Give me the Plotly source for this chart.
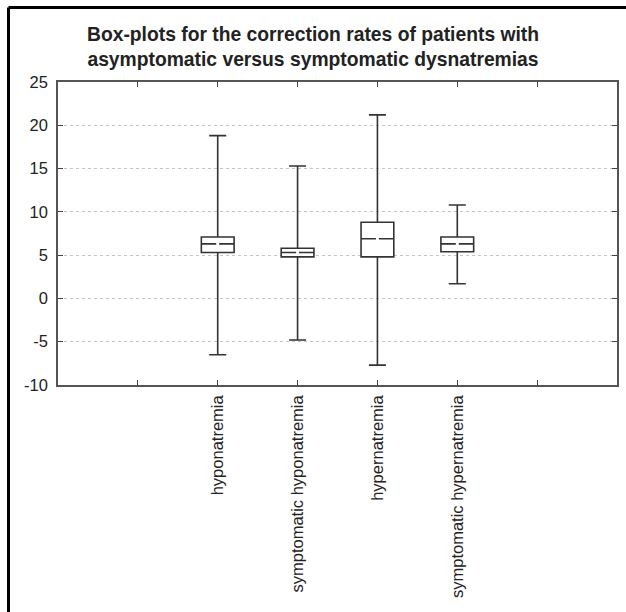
import plotly.graph_objects as go

categories = ["hyponatremia", "symptomatic hyponatremia", "hypernatremia", "symptomatic hypernatremia"]
positions = [1, 2, 3, 4]
upper_fence = [18.8, 15.3, 21.2, 10.8]
q3_values = [7.1, 5.8, 8.8, 7.1]
medians = [6.3, 5.3, 6.9, 6.3]
q1_values = [5.3, 4.8, 4.8, 5.4]
lower_fence = [-6.5, -4.8, -7.7, 1.7]

y_ticks = [-10, -5, 0, 5, 10, 15, 20, 25]
y_ticktext = ["-10", "-5", "0", "5", "10", "15", "20", "25"]
x_tickvals = [0, 1, 2, 3, 4, 5]
x_ticktext = [""] + categories + [""]

title_text = "Box-plots for the correction rates of patients with<br>asymptomatic versus symptomatic dysnatremias"

FONT = "Liberation Sans, Arial, sans-serif"
TXT = "#222222"
LINE = "#333333"

fig = go.Figure()
fig.add_trace(go.Box(
    x=positions,
    q1=q1_values,
    median=medians,
    q3=q3_values,
    lowerfence=lower_fence,
    upperfence=upper_fence,
    width=0.41,
    whiskerwidth=0.52,
    fillcolor="white",
    line=dict(color=LINE, width=1.6),
    boxpoints=False,
    showlegend=False,
    hoverinfo="skip",
))
# small white gap in the middle of the median line
fig.add_trace(go.Scatter(
    x=positions,
    y=medians,
    mode="markers",
    marker=dict(symbol="square", size=3, color="white", line=dict(width=0)),
    showlegend=False,
    hoverinfo="skip",
))

L, R, T, B = 58, 9, 82, 227
W, H = 626, 612
pw = W - L - R
ph = H - T - B

def px_x(px):
    return (px - L) / pw

def px_y(py):
    return (H - B - py) / ph

fig.update_layout(
    width=W, height=H,
    template="none",
    paper_bgcolor="white",
    plot_bgcolor="white",
    margin=dict(l=L, r=R, t=T, b=B, pad=0),
    font=dict(family=FONT, size=17, color=TXT),
    title=dict(
        text="<b>" + title_text + "</b>",
        x=0.5, xref="container", xanchor="center",
        y=1 - 41 / H, yref="container", yanchor="middle",
        font=dict(family=FONT, size=19.3, color=TXT),
    ),
    xaxis=dict(
        range=[-1, 6],
        tickmode="array",
        tickvals=x_tickvals,
        ticktext=x_ticktext,
        tickangle=-90,
        ticks="inside",
        ticklen=5,
        tickwidth=1.3,
        tickcolor="#444",
        mirror="ticks",
        showline=True,
        linecolor="#555555",
        linewidth=1.5,
        showgrid=False,
        zeroline=False,
        automargin=False,
        tickfont=dict(family=FONT, size=16.5, color=TXT),
        ticklabelstandoff=2,
    ),
    yaxis=dict(
        range=[-10, 25],
        tickmode="array",
        tickvals=y_ticks,
        ticktext=y_ticktext,
        ticks="inside",
        ticklen=5,
        tickwidth=1.3,
        tickcolor="#444",
        mirror="ticks",
        showline=True,
        linecolor="#555555",
        linewidth=1.5,
        showgrid=True,
        gridcolor="#c4c4c4",
        griddash="dot",
        gridwidth=1,
        zeroline=False,
        automargin=False,
        tickfont=dict(family=FONT, size=16.5, color=TXT),
        ticklabelstandoff=5,
    ),
    shapes=[
        dict(type="line", xref="paper", yref="paper",
             x0=px_x(8.5), x1=px_x(8.5), y0=px_y(7.5), y1=px_y(640),
             line=dict(color="black", width=3)),
        dict(type="line", xref="paper", yref="paper",
             x0=px_x(8.5), x1=px_x(660), y0=px_y(7.5), y1=px_y(7.5),
             line=dict(color="black", width=3)),
    ],
)

fig.write_html(
    "out.html",
    config={"displayModeBar": False},
    post_script="document.body.style.margin='0px';document.body.style.overflow='hidden';",
)
